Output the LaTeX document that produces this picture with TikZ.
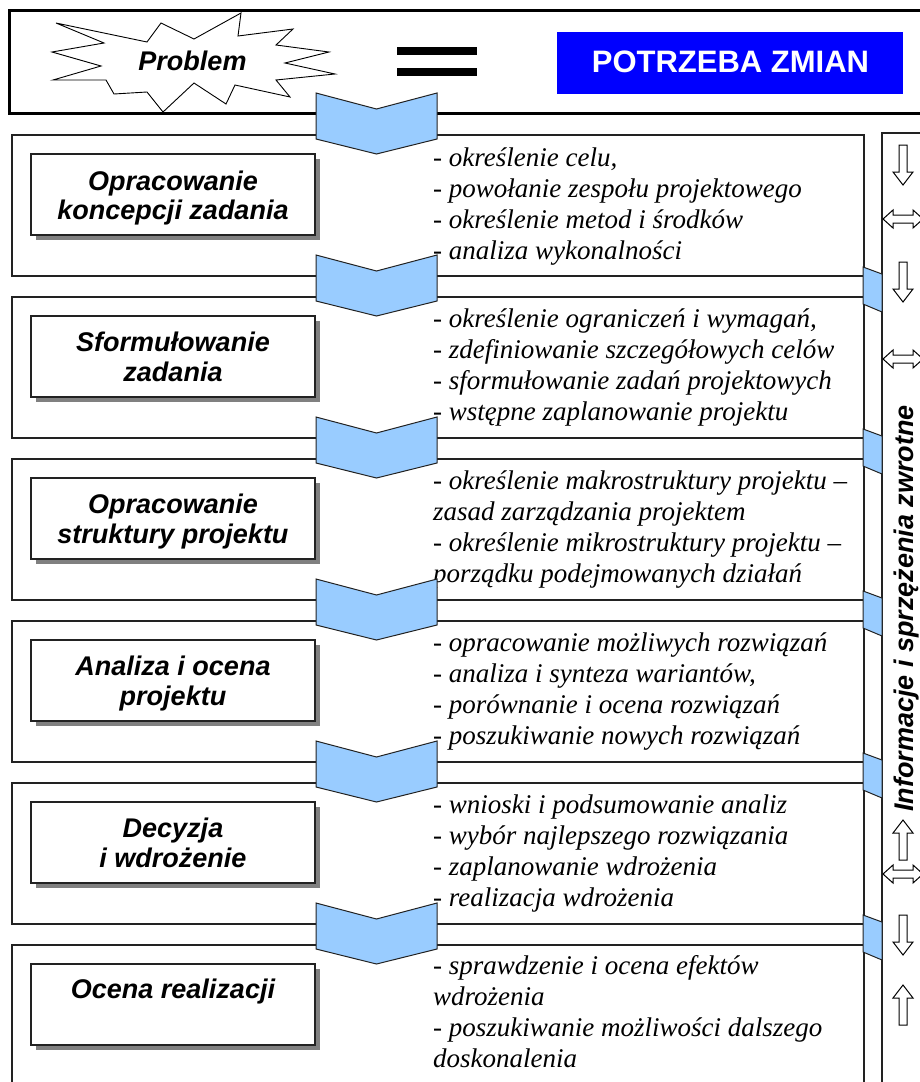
\documentclass[tikz,border=0pt]{standalone}
\usepackage{fontspec}
\setmainfont{Liberation Serif}
\setsansfont{Liberation Sans}
\usetikzlibrary{shadows}
\definecolor{chev}{HTML}{99CCFF}
\definecolor{potrz}{HTML}{0000FF}
\definecolor{shad}{HTML}{808080}
\definecolor{edge}{HTML}{222222}
\tikzset{
  rowbox/.style={draw=edge, line width=1.8pt, fill=white, minimum width=852pt, minimum height=141pt, inner sep=0pt, anchor=north west},
  labelbox/.style={draw=edge, line width=1.3pt, fill=white, minimum width=284pt, minimum height=81pt, inner sep=0pt,
    drop shadow={shadow xshift=5pt, shadow yshift=-5pt, fill=shad, opacity=1}},
  lab/.style={anchor=base, inner sep=0pt, font=\sffamily\bfseries\itshape\fontsize{27}{31}\selectfont},
  item/.style={anchor=base west, inner sep=0pt, font=\itshape\fontsize{27}{31}\selectfont},
  chevshape/.style={fill=chev, draw=edge, line width=1pt},
  outarrow/.style={fill=white, draw=black, line width=1pt, line join=miter},
  dnarrow/.pic={\draw[outarrow] (-4,0) -- (-4,27) -- (-10,27) -- (0,40) -- (10,27) -- (4,27) -- (4,0) -- cycle;},
  uparrow/.pic={\draw[outarrow] (0,0) -- (10,13) -- (4,13) -- (4,40) -- (-4,40) -- (-4,13) -- (-10,13) -- cycle;},
  dblarrow/.pic={\draw[outarrow] (0,0) -- (10,-9) -- (10,-4) -- (30,-4) -- (30,-9) -- (40,0) -- (30,9) -- (30,4) -- (10,4) -- (10,9) -- cycle;}
}
\begin{document}
\begin{tikzpicture}[x=1pt,y=-1pt]
\useasboundingbox (0,0) rectangle (920,1082);
\fill[white] (0,0) rectangle (920,1082);

% header
\draw[draw=black, line width=3pt] (9,10) rectangle (935,113);
\draw[fill=white, draw=black, line width=0.9pt, line join=miter]
  (56,23) -- (147,42) -- (161,23) -- (194,39) -- (241,13) -- (238,36) -- (293,29) -- (276,45)
  -- (329,52) -- (285,63) -- (335,74) -- (276,80) -- (290,97) -- (235,85) -- (226,104) -- (194,83)
  -- (163,112) -- (147,92) -- (114,94) -- (106,80) -- (53,80) -- (101,66) -- (52,52) -- (104,43) -- cycle;
\node[lab] (prob) at (192.5,70) {Problem};
\fill[black] (397,47) rectangle (477,55);
\fill[black] (397,68) rectangle (477,76);
\node[fill=potrz, minimum width=346pt, minimum height=62pt, inner sep=0pt] (pzbox) at (730,63) {};
\node[anchor=base, inner sep=0pt, text=white, font=\sffamily\bfseries\fontsize{31}{35}\selectfont] (pz) at (730.5,72) {POTRZEBA ZMIAN};

% rows
\node[rowbox] (row1) at (11,134) {};
\node[rowbox] (row2) at (11,296) {};
\node[rowbox] (row3) at (11,458) {};
\node[rowbox] (row4) at (11,620) {};
\node[rowbox] (row5) at (11,782) {};
\node[rowbox] (row6) at (11,944) {};

% feedback column
\draw[draw=edge, line width=1.8pt] (882,133) rectangle (940,1100);

% label boxes
\node[labelbox] (lb1) at (173,194.5) {};
\node[lab] (lb1a) at (173,190) {Opracowanie};
\node[lab] (lb1b) at (173,219) {koncepcji zadania};
\node[labelbox] (lb2) at (173,356.5) {};
\node[lab] (lb2a) at (173,351) {Sformułowanie};
\node[lab] (lb2b) at (173,381) {zadania};
\node[labelbox] (lb3) at (173,518.5) {};
\node[lab] (lb3a) at (173,513) {Opracowanie};
\node[lab] (lb3b) at (173,543) {struktury projektu};
\node[labelbox] (lb4) at (173,680.5) {};
\node[lab] (lb4a) at (173,675) {Analiza i ocena};
\node[lab] (lb4b) at (173,705) {projektu};
\node[labelbox] (lb5) at (173,842.5) {};
\node[lab] (lb5a) at (173,837) {Decyzja};
\node[lab] (lb5b) at (173,867) {i wdrożenie};
\node[labelbox] (lb6) at (173,1004.5) {};
\node[lab] (lb6a) at (173,998) {Ocena realizacji};

% item texts
\node[item] (t1a) at (433,166) {- określenie celu,};
\node[item] (t1b) at (433,197) {- powołanie zespołu projektowego};
\node[item] (t1c) at (433,228) {- określenie metod i środków};
\node[item] (t1d) at (433,259) {- analiza wykonalności};
\node[item] (t2a) at (433,327) {- określenie ograniczeń i wymagań,};
\node[item] (t2b) at (433,358) {- zdefiniowanie szczegółowych celów};
\node[item] (t2c) at (433,389) {- sformułowanie zadań projektowych};
\node[item] (t2d) at (433,420) {- wstępne zaplanowanie projektu};
\node[item] (t3a) at (433,489) {- określenie makrostruktury projektu –};
\node[item] (t3b) at (433,520) {zasad zarządzania projektem};
\node[item] (t3c) at (433,551) {- określenie mikrostruktury projektu –};
\node[item] (t3d) at (433,582) {porządku podejmowanych działań};
\node[item] (t4a) at (433,651) {- opracowanie możliwych rozwiązań};
\node[item] (t4b) at (433,682) {- analiza i synteza wariantów,};
\node[item] (t4c) at (433,713) {- porównanie i ocena rozwiązań};
\node[item] (t4d) at (433,744) {- poszukiwanie nowych rozwiązań};
\node[item] (t5a) at (433,813) {- wnioski i podsumowanie analiz};
\node[item] (t5b) at (433,844) {- wybór najlepszego rozwiązania};
\node[item] (t5c) at (433,875) {- zaplanowanie wdrożenia};
\node[item] (t5d) at (433,906) {- realizacja wdrożenia};
\node[item] (t6a) at (433,974) {- sprawdzenie i ocena efektów};
\node[item] (t6b) at (433,1005) {wdrożenia};
\node[item] (t6c) at (433,1036) {- poszukiwanie możliwości dalszego};
\node[item] (t6d) at (433,1067) {doskonalenia};

% chevrons
\foreach \T in {93,255,417,579,741,903}{
  \draw[chevshape] (316,\T) -- (376.5,\T+16) -- (437,\T) -- (437,\T+46) -- (376.5,\T+61) -- (316,\T+46) -- cycle;
}
% right connectors
\foreach \B in {275,437,599,761,923}{
  \draw[chevshape] (863,\B-8) -- (882,\B-1) -- (882,\B+37) -- (863,\B+29) -- cycle;
}

% arrows in feedback column
\pic at (903,145) {dnarrow};
\pic at (903,262) {dnarrow};
\pic at (903,915) {dnarrow};
\pic at (903,820) {uparrow};
\pic at (903,985) {uparrow};
\pic at (883,219) {dblarrow};
\pic at (883,359) {dblarrow};
\pic at (883,874) {dblarrow};

\node[rotate=90, anchor=base, inner sep=0pt, font=\sffamily\bfseries\itshape\fontsize{27}{31}\selectfont] (fb) at (913,608.5) {Informacje i sprzężenia zwrotne};
\end{tikzpicture}
\end{document}
